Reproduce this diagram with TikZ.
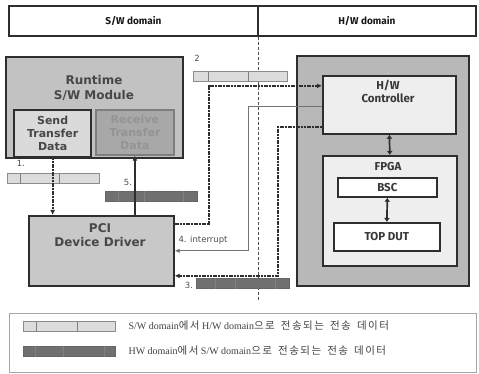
\documentclass[tikz,border=0pt]{standalone}
\usepackage{fontspec}
\setmainfont{Liberation Serif}
\newfontfamily\swfont{DejaVu Sans}
\newfontfamily\hwfont{Fira Sans}
\newfontfamily\krfont{Noto Sans CJK KR}[LetterSpace=14,WordSpace=1.6]
\usetikzlibrary{arrows.meta}

\definecolor{rtgray}{HTML}{C2C2C2}
\definecolor{sendgray}{HTML}{DADADA}
\definecolor{recvgray}{HTML}{A8A8A8}
\definecolor{hwgray}{HTML}{B8B8B8}
\definecolor{palegray}{HTML}{EEEEEE}
\definecolor{lightbar}{HTML}{DCDCDC}
\definecolor{darkbar}{HTML}{707070}
\definecolor{edge}{HTML}{2E2E2E}

\tikzset{
  blk/.style={draw=edge, line width=1.7pt, fill=#1, anchor=north west, inner sep=0pt},
  swtxt/.style={font=\swfont\bfseries\fontsize{11}{13}\selectfont, text=black!72, align=center},
  hwtxt/.style={font=\hwfont\bfseries\fontsize{11.5}{13}\selectfont, text=black!78, align=center},
  lbar/.style={draw=black!45, line width=0.7pt, fill=lightbar, anchor=north west,
    minimum width=92pt, minimum height=10pt, inner sep=0pt},
  dbar/.style={draw=black!60, line width=0.7pt, fill=darkbar, anchor=north west,
    minimum width=92pt, minimum height=10pt, inner sep=0pt},
  seg/.style={draw=black!50, line width=0.6pt},
  num/.style={font=\swfont\fontsize{8.5}{10}\selectfont, text=black!70},
  dotline/.style={draw=edge, line width=1.8pt, dash pattern=on 2pt off 0.7pt, -{Latex[length=5pt,width=5pt]}},
  solidline/.style={draw=edge, line width=1.8pt, -{Latex[length=5pt,width=5pt]}},
  thinline/.style={draw=black!55, line width=0.8pt, -{Latex[length=5pt,width=4.5pt]}},
  both/.style={draw=edge, line width=1.7pt, {Latex[length=4pt,width=6pt]}-{Latex[length=4pt,width=6pt]}}
}

\begin{document}
\begin{tikzpicture}[x=1pt,y=-1pt]
\useasboundingbox (0,0) rectangle (479,374);

% Domain header
\node[blk=white, minimum width=249pt, minimum height=30pt, text=black!90,
  font=\hwfont\bfseries\fontsize{10}{11}\selectfont] (swdom) at (8,5) {S/W domain};
\node[blk=white, minimum width=218pt, minimum height=30pt, text=black!90,
  font=\hwfont\bfseries\fontsize{10}{11}\selectfont] (hwdom) at (257,5) {H/W domain};
\draw[black!70, line width=1.1pt, dash pattern=on 3pt off 2pt] (swdom.south east) -- ++(0,265);

% S/W side
\node[blk=rtgray, minimum width=177pt, minimum height=101pt] (rt) at (5,56) {};
\node[swtxt, font=\swfont\bfseries\fontsize{12}{14.5}\selectfont] (rtname) at (94,88) {Runtime\\S/W Module};
\node[blk=sendgray, minimum width=77pt, minimum height=47pt, line width=2.3pt] (send) at (13,109) {};
\node[swtxt] (sendname) at (send.center) {Send\\Transfer\\Data};
\node[blk=recvgray, minimum width=78pt, minimum height=45pt, draw=recvgray!75!black] (recv) at (95,109) {};
\node[swtxt, text=black!42] (recvname) at (recv.center) {Receive\\Transfer\\Data};
\node[blk=rtgray!90!white, minimum width=145pt, minimum height=70pt] (pci) at (28,215) {};
\node[swtxt, font=\swfont\bfseries\fontsize{12}{14}\selectfont] (pciname) at (100,235) {PCI\\Device Driver};

% H/W side
\node[blk=hwgray, minimum width=172pt, minimum height=230pt] (hw) at (296,55) {};
\node[blk=palegray, minimum width=133pt, minimum height=58pt] (ctrl) at (322,75) {};
\node[hwtxt] (ctrlname) at (388,91) {H/W\\Controller};
\node[blk=palegray, minimum width=134pt, minimum height=110pt] (fpga) at (322,155) {};
\node[hwtxt] (fpganame) at (388,167) {FPGA};
\node[blk=white, minimum width=99pt, minimum height=19pt] (bsc) at (337,177) {};
\node[hwtxt] (bscname) at (bsc.center) {BSC};
\node[blk=white, minimum width=106pt, minimum height=28pt] (top) at (333,222) {};
\node[hwtxt] (topname) at (top.center) {TOP DUT};

% Data packets
\node[lbar] (bar1) at (7,173) {};
\foreach \s in {13,52} \draw[seg] ([xshift=\s pt]bar1.north west) -- ([xshift=\s pt]bar1.south west);
\node[dbar] (bar5) at (105,191) {};
\foreach \s in {13,39,78} \draw[seg] ([xshift=\s pt]bar5.north west) -- ([xshift=\s pt]bar5.south west);
\node[lbar, minimum width=94pt] (bar2) at (193,71) {};
\foreach \s in {15,55} \draw[seg] ([xshift=\s pt]bar2.north west) -- ([xshift=\s pt]bar2.south west);
\node[dbar, minimum width=93pt] (bar3) at (196,278) {};
\foreach \s in {19,39,79} \draw[seg] ([xshift=\s pt]bar3.north west) -- ([xshift=\s pt]bar3.south west);

\node[num] (n1) at (21,163) {1.};
\node[num] (n2) at (197,58) {2};
\node[num] (n3) at (189,285) {3.};
\node[num] (n5) at (128,182) {5.};
\node[num, anchor=west] (n4) at (175,240) {4. interrupt};

% Transfers
\draw[dotline] (send.south) -- (send.south |- pci.north);
\draw[solidline] (recv.south |- pci.north) -- (recv.south);
\draw[dotline] ([yshift=27pt]pci.east) -- ++(34,0) |- ([yshift=19pt]ctrl.west);
\draw[thinline] ([yshift=-2pt]ctrl.west) -- ++(-74,0) |- (pci.east);
\draw[dotline] ([yshift=-22pt]ctrl.west) -- ++(-44,0) |- ([yshift=-25pt]pci.east);
\draw[both] (ctrl.south) -- (fpga.north);
\draw[both] (bsc.south) -- (top.north);

% Legend
\node[draw=black!35, line width=0.7pt, anchor=north west, minimum width=467pt,
  minimum height=59pt, inner sep=0pt] (legend) at (9,313) {};
\node[lbar] (leg1) at (23,321) {};
\foreach \s in {13,54} \draw[seg] ([xshift=\s pt]leg1.north west) -- ([xshift=\s pt]leg1.south west);
\node[dbar] (leg2) at (23,346) {};
\foreach \s in {12,40,81} \draw[seg] ([xshift=\s pt]leg2.north west) -- ([xshift=\s pt]leg2.south west);
\node[anchor=west, font=\fontsize{10}{12}\selectfont, text=black!75] (legtxt1) at (125,326)
  {S/W domain{\krfont\fontsize{10.5}{12}\selectfont 에서} H/W domain{\krfont\fontsize{10.5}{12}\selectfont 으로 전송되는 전송 데이터}};
\node[anchor=west, font=\fontsize{10}{12}\selectfont, text=black!75] (legtxt2) at (125,351)
  {HW domain{\krfont\fontsize{10.5}{12}\selectfont 에서} S/W domain{\krfont\fontsize{10.5}{12}\selectfont 으로 전송되는 전송 데이터}};
\end{tikzpicture}
\end{document}
